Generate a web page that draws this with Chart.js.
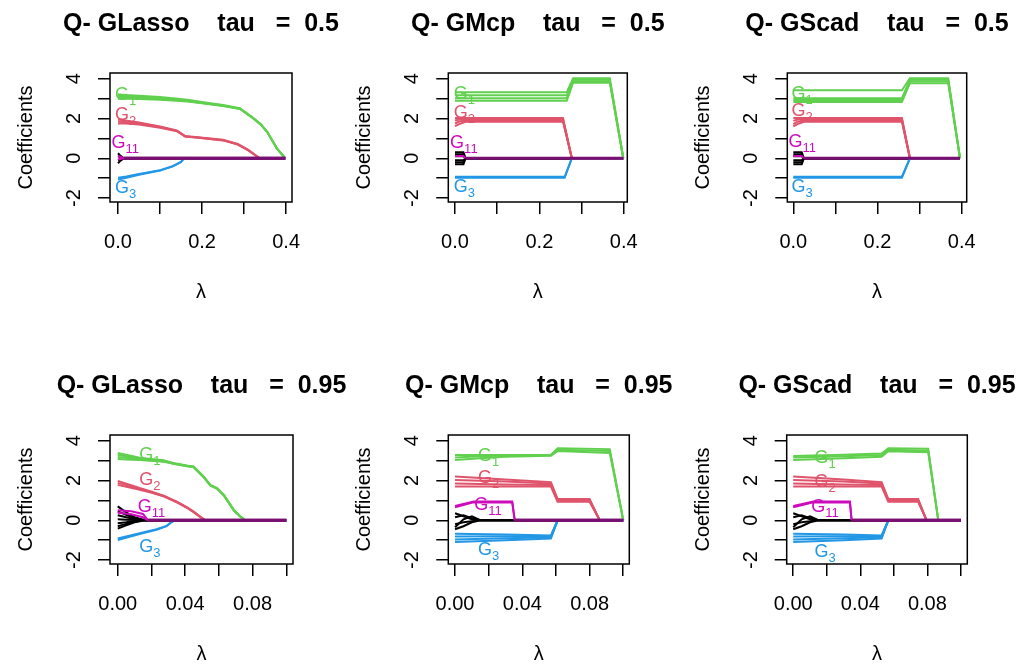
<!DOCTYPE html>
<html><head><meta charset="utf-8">
<script src="https://cdn.jsdelivr.net/npm/chart.js@4"></script>
<style>
html,body{margin:0;padding:0;background:#fff;}
#wrap{position:relative;width:1017px;height:664px;background:#fff;}
#wrap canvas{position:absolute;left:0;top:0;}
</style>
</head><body><div id="wrap"></div>
<script>
// ---------- DATA ----------
const TITLES = [
  "Q- GLasso    tau   =  0.5", "Q- GMcp    tau   =  0.5", "Q- GScad    tau   =  0.5",
  "Q- GLasso    tau   =  0.95", "Q- GMcp    tau   =  0.95", "Q- GScad    tau   =  0.95"
];
const X_TICKS_TOP = [0, 0.1, 0.2, 0.3, 0.4];
const X_LABELS_TOP = ["0.0", "", "0.2", "", "0.4"];
const X_TICKS_BOTTOM = [0, 0.02, 0.04, 0.06, 0.08, 0.1];
const X_LABELS_BOTTOM = ["0.00", "", "0.04", "", "0.08", ""];
const Y_TICKS = [-2, -1, 0, 1, 2, 3, 4];
const Y_LABELS = ["-2", "", "0", "", "2", "", "4"];
const X_TITLE = "λ";
const Y_TITLE = "Coefficients";
const LABEL_GROUPS = ["G1", "G2", "G11", "G3"];
const LABEL_SUBS = ["1", "2", "11", "3"];

// Panel 1: GLasso tau 0.5
const P1_G1_L = [0, 0.01, 0.02, 0.05, 0.1, 0.13, 0.165, 0.2, 0.25, 0.29, 0.32, 0.34, 0.355, 0.378, 0.398];
const P1_G1 = [
  [3.22, 3.2, 3.18, 3.14, 3.08, 3.02, 2.94, 2.83, 2.68, 2.52, 2.06, 1.71, 1.33, 0.5, 0],
  [3.14, 3.13, 3.11, 3.08, 3.02, 2.97, 2.9, 2.8, 2.66, 2.5, 2.05, 1.7, 1.33, 0.5, 0],
  [3.08, 3.07, 3.06, 3.03, 2.98, 2.94, 2.88, 2.78, 2.64, 2.49, 2.04, 1.69, 1.32, 0.5, 0],
  [3.0, 3.0, 2.99, 2.98, 2.94, 2.91, 2.86, 2.77, 2.63, 2.48, 2.03, 1.69, 1.32, 0.49, 0]
];
const P1_G2_L = [0, 0.01, 0.05, 0.1, 0.14, 0.16, 0.19, 0.25, 0.285, 0.31, 0.337, 0.398];
const P1_G2 = [
  [1.95, 1.93, 1.8, 1.6, 1.4, 1.12, 1.06, 0.93, 0.72, 0.42, 0, 0],
  [1.85, 1.84, 1.75, 1.57, 1.38, 1.1, 1.04, 0.91, 0.7, 0.41, 0, 0],
  [1.75, 1.76, 1.7, 1.54, 1.36, 1.09, 1.03, 0.9, 0.69, 0.4, 0, 0]
];
const P1_G3_L = [0, 0.02, 0.05, 0.1, 0.13, 0.15, 0.157, 0.398];
const P1_G3 = [
  [-1.07, -0.98, -0.83, -0.62, -0.41, -0.19, 0, 0],
  [-0.98, -0.92, -0.79, -0.6, -0.4, -0.18, 0, 0]
];
const P1_G11_L = [0, 0.008, 0.014, 0.398];
const P1_G11 = [[0.12, 0.05, 0, 0], [-0.06, -0.02, 0, 0]];
const P1_OTHER_L = [0, 0.006, 0.012, 0.016, 0.398];
const P1_OTHER = [[0.25, 0.12, 0.03, 0, 0], [0.1, 0.05, 0.01, 0, 0], [-0.1, -0.05, -0.01, 0, 0], [-0.25, -0.12, -0.03, 0, 0]];
const P1_LABEL_L = [0.018, 0.018, 0.017, 0.018];
const P1_LABEL_V = [3.27, 2.26, 0.82, -1.45];

// Panel 2: GMcp tau 0.5
const P2_G1_L = [0, 0.265, 0.28, 0.367, 0.399];
const P2_G1 = [[3.32, 3.32, 4.03, 4.03, 0], [3.17, 3.17, 3.95, 3.95, 0], [3.02, 3.02, 3.88, 3.88, 0], [2.9, 2.9, 3.8, 3.8, 0]];
const P2_G2_L = [0, 0.01, 0.025, 0.256, 0.277, 0.399];
const P2_G2 = [[2.02, 2.02, 2.02, 2.02, 0, 0], [1.9, 1.95, 1.97, 1.97, 0, 0], [1.75, 1.85, 1.9, 1.9, 0, 0], [1.62, 1.72, 1.84, 1.85, 0, 0]];
const P2_G3_L = [0, 0.26, 0.277, 0.399];
const P2_G3 = [[-0.93, -0.93, 0, 0], [-0.98, -0.98, 0, 0]];
const P2_G11_L = [0, 0.02, 0.025, 0.399];
const P2_G11 = [[0.12, 0.12, 0, 0]];
const P2_OTHER_L = [0, 0.02, 0.025, 0.399];
const P2_OTHER = [[0.3, 0.3, 0, 0], [0.2, 0.2, 0, 0], [0.1, 0.1, 0, 0], [-0.1, -0.1, 0, 0], [-0.2, -0.2, 0, 0], [-0.3, -0.3, 0, 0]];
const P2_LABEL_L = [0.022, 0.022, 0.021, 0.022];
const P2_LABEL_V = [3.28, 2.34, 0.82, -1.37];

// Panel 3: GScad tau 0.5
const P3_G1_L = [0, 0.258, 0.277, 0.368, 0.396];
const P3_G1 = [[3.42, 3.42, 4.03, 4.03, 0], [3.02, 3.02, 3.95, 3.95, 0], [2.93, 2.93, 3.87, 3.87, 0], [2.83, 2.83, 3.78, 3.78, 0]];
const P3_G2_L = [0, 0.01, 0.025, 0.258, 0.277, 0.396];
const P3_G2 = [[2.02, 2.02, 2.02, 2.02, 0, 0], [1.88, 1.95, 1.97, 1.97, 0, 0], [1.72, 1.84, 1.9, 1.9, 0, 0], [1.6, 1.72, 1.84, 1.85, 0, 0]];
const P3_G3_L = [0, 0.258, 0.277, 0.396];
const P3_G3 = [[-0.93, -0.93, 0, 0], [-0.98, -0.98, 0, 0]];
const P3_G11_L = [0, 0.02, 0.025, 0.396];
const P3_G11 = [[0.12, 0.12, 0, 0]];
const P3_OTHER_L = [0, 0.02, 0.025, 0.396];
const P3_OTHER = [[0.3, 0.3, 0, 0], [0.2, 0.2, 0, 0], [0.1, 0.1, 0, 0], [-0.1, -0.1, 0, 0], [-0.2, -0.2, 0, 0], [-0.3, -0.3, 0, 0]];
const P3_LABEL_L = [0.021, 0.021, 0.021, 0.021];
const P3_LABEL_V = [3.28, 2.43, 0.91, -1.37];

// Panel 4: GLasso tau 0.95
const P4_G1_L = [0, 0.005, 0.013, 0.027, 0.033, 0.041, 0.045, 0.051, 0.055, 0.059, 0.063, 0.069, 0.073, 0.0756, 0.1];
const P4_G1 = [
  [3.38, 3.3, 3.15, 3.02, 2.88, 2.76, 2.71, 2.2, 1.78, 1.62, 1.28, 0.52, 0.18, 0, 0],
  [3.3, 3.22, 3.1, 2.99, 2.86, 2.74, 2.69, 2.18, 1.76, 1.6, 1.26, 0.5, 0.17, 0, 0],
  [3.18, 3.14, 3.06, 2.97, 2.85, 2.73, 2.68, 2.17, 1.75, 1.59, 1.25, 0.49, 0.16, 0, 0],
  [3.08, 3.06, 3.03, 2.95, 2.84, 2.72, 2.67, 2.16, 1.74, 1.58, 1.24, 0.48, 0.16, 0, 0]
];
const P4_G2_L = [0, 0.013, 0.0197, 0.0276, 0.035, 0.041, 0.045, 0.049, 0.052, 0.1];
const P4_G2 = [
  [1.98, 1.62, 1.45, 1.23, 0.94, 0.66, 0.44, 0.18, 0, 0],
  [1.88, 1.58, 1.42, 1.21, 0.92, 0.64, 0.42, 0.17, 0, 0],
  [1.78, 1.54, 1.4, 1.19, 0.9, 0.63, 0.41, 0.16, 0, 0]
];
const P4_G3_L = [0, 0.013, 0.023, 0.029, 0.032, 0.034, 0.1];
const P4_G3 = [[-1.0, -0.69, -0.48, -0.3, -0.09, 0, 0], [-0.92, -0.65, -0.45, -0.28, -0.08, 0, 0]];
const P4_G11_L = [0, 0.008, 0.015, 0.018, 0.1];
const P4_G11 = [[0.5, 0.45, 0.32, 0, 0], [0.38, 0.3, 0.15, 0, 0]];
const P4_OTHER_L = [0, 0.005, 0.01, 0.016, 0.1];
const P4_OTHER = [
  [0.7, 0.4, 0.15, 0, 0], [0.45, 0.28, 0.1, 0, 0], [0.25, 0.15, 0.05, 0, 0], [0.05, 0.03, 0.01, 0, 0],
  [-0.15, -0.1, -0.04, 0, 0], [-0.3, -0.18, -0.07, 0, 0], [-0.42, -0.25, -0.1, 0, 0]
];
const P4_LABEL_L = [0.019, 0.019, 0.02, 0.019];
const P4_LABEL_V = [3.36, 2.1, 0.76, -1.26];

// Panel 5: GMcp tau 0.95
const P5_G1_L = [0, 0.015, 0.03, 0.057, 0.061, 0.092, 0.1];
const P5_G1 = [[3.28, 3.28, 3.28, 3.28, 3.62, 3.58, 0], [3.16, 3.22, 3.26, 3.27, 3.55, 3.48, 0], [3.03, 3.12, 3.2, 3.24, 3.48, 3.38, 0]];
const P5_G2_L = [0, 0.03, 0.057, 0.061, 0.08, 0.086, 0.1];
const P5_G2 = [[2.2, 2.05, 1.92, 1.07, 1.07, 0, 0], [2.02, 1.95, 1.85, 1.02, 1.02, 0, 0], [1.85, 1.8, 1.78, 0.97, 0.97, 0, 0], [1.7, 1.7, 1.7, 0.93, 0.93, 0, 0]];
const P5_G3_L = [0, 0.03, 0.057, 0.061, 0.1];
const P5_G3 = [[-0.68, -0.72, -0.76, 0, 0], [-0.82, -0.8, -0.8, 0, 0], [-0.97, -0.9, -0.85, 0, 0], [-1.09, -1.0, -0.92, 0, 0]];
const P5_G11_L = [0, 0.011, 0.034, 0.0355, 0.1];
const P5_G11 = [[0.72, 0.95, 0.95, 0, 0], [0.65, 0.9, 0.9, 0, 0]];
const P5_OTHER_L = [0, 0.005, 0.01, 0.015, 0.1];
const P5_OTHER = [[0.35, 0.2, 0.05, 0, 0], [0.15, 0.25, 0.1, 0, 0], [-0.2, -0.1, -0.05, 0, 0], [-0.45, -0.3, -0.1, 0, 0], [-0.35, 0.05, 0.2, 0, 0]];
const P5_LABEL_L = [0.02, 0.02, 0.0196, 0.02];
const P5_LABEL_V = [3.28, 2.18, 0.84, -1.43];

// Panel 6: GScad tau 0.95
const P6_G1_L = [0, 0.03, 0.0527, 0.0567, 0.0805, 0.0865, 0.1];
const P6_G1 = [[3.23, 3.3, 3.36, 3.62, 3.6, 0, 0], [3.16, 3.22, 3.28, 3.55, 3.5, 0, 0], [3.03, 3.12, 3.2, 3.47, 3.42, 0, 0]];
const P6_G2_L = [0, 0.03, 0.0527, 0.0567, 0.0745, 0.0795, 0.1];
const P6_G2 = [[2.2, 2.05, 1.92, 1.07, 1.07, 0, 0], [2.02, 1.95, 1.85, 1.02, 1.02, 0, 0], [1.85, 1.8, 1.78, 0.97, 0.97, 0, 0], [1.7, 1.7, 1.7, 0.93, 0.93, 0, 0]];
const P6_G3_L = [0, 0.03, 0.0527, 0.0567, 0.1];
const P6_G3 = [[-0.68, -0.72, -0.76, 0, 0], [-0.82, -0.8, -0.8, 0, 0], [-0.97, -0.9, -0.85, 0, 0], [-1.09, -1.0, -0.92, 0, 0]];
const P6_G11_L = [0, 0.012, 0.0338, 0.0348, 0.1];
const P6_G11 = [[0.72, 0.95, 0.95, 0, 0], [0.65, 0.9, 0.9, 0, 0]];
const P6_OTHER_L = [0, 0.005, 0.01, 0.015, 0.1];
const P6_OTHER = [[0.35, 0.2, 0.05, 0, 0], [0.15, 0.25, 0.1, 0, 0], [-0.2, -0.1, -0.05, 0, 0], [-0.45, -0.3, -0.1, 0, 0], [-0.35, 0.05, 0.2, 0, 0]];
const P6_LABEL_L = [0.019, 0.019, 0.019, 0.019];
const P6_LABEL_V = [3.19, 2.02, 0.76, -1.51];

// ---------- STYLE / LAYOUT ----------
const COLORS = { other: "#000000", G1: "#61D04F", G2: "#DF536B", G3: "#2297E6", G11: "#CD0BBC" };
const ZERO_COLOR = "#7a0f72";
const FONT = '"Liberation Sans", Arial, Helvetica, sans-serif';
const PAGE_W = 1017, PAGE_H = 664;
// plot boxes in page pixels [left, top, right, bottom]
const BOXES = [
  [110, 73, 292, 202], [448.3, 73, 627.3, 202], [787.3, 73, 966.7, 202],
  [110, 435, 293, 564], [448.3, 435, 629.3, 564], [786.7, 435, 967.3, 564]
];
const XLIM = [[-0.019, 0.414], [-0.0159, 0.4085], [-0.0143, 0.4119], [-0.0046, 0.104], [-0.004, 0.1036], [-0.0039, 0.1038]];
const YLIM = [-2.2, 4.29];

const PANEL_GROUPS = [
  { other: [P1_OTHER_L, P1_OTHER], G1: [P1_G1_L, P1_G1], G2: [P1_G2_L, P1_G2], G3: [P1_G3_L, P1_G3], G11: [P1_G11_L, P1_G11] },
  { other: [P2_OTHER_L, P2_OTHER], G1: [P2_G1_L, P2_G1], G2: [P2_G2_L, P2_G2], G3: [P2_G3_L, P2_G3], G11: [P2_G11_L, P2_G11] },
  { other: [P3_OTHER_L, P3_OTHER], G1: [P3_G1_L, P3_G1], G2: [P3_G2_L, P3_G2], G3: [P3_G3_L, P3_G3], G11: [P3_G11_L, P3_G11] },
  { other: [P4_OTHER_L, P4_OTHER], G1: [P4_G1_L, P4_G1], G2: [P4_G2_L, P4_G2], G3: [P4_G3_L, P4_G3], G11: [P4_G11_L, P4_G11] },
  { other: [P5_OTHER_L, P5_OTHER], G1: [P5_G1_L, P5_G1], G2: [P5_G2_L, P5_G2], G3: [P5_G3_L, P5_G3], G11: [P5_G11_L, P5_G11] },
  { other: [P6_OTHER_L, P6_OTHER], G1: [P6_G1_L, P6_G1], G2: [P6_G2_L, P6_G2], G3: [P6_G3_L, P6_G3], G11: [P6_G11_L, P6_G11] }
];
const PANEL_LABELS = [
  [P1_LABEL_L, P1_LABEL_V], [P2_LABEL_L, P2_LABEL_V], [P3_LABEL_L, P3_LABEL_V],
  [P4_LABEL_L, P4_LABEL_V], [P5_LABEL_L, P5_LABEL_V], [P6_LABEL_L, P6_LABEL_V]
];
const DRAW_ORDER = ["other", "G1", "G2", "G3", "G11"];

const rPlugin = {
  id: "rstyle",
  afterDraw(chart, args, opts) {
    const i = opts.index;
    const { ctx, chartArea: a } = chart;
    const xs = chart.scales.x, ys = chart.scales.y;
    const top = i < 3;
    const xt = top ? X_TICKS_TOP : X_TICKS_BOTTOM;
    const xl = top ? X_LABELS_TOP : X_LABELS_BOTTOM;
    const cx = (a.left + a.right) / 2, cy = (a.top + a.bottom) / 2;
    ctx.save();
    ctx.strokeStyle = "#000"; ctx.lineWidth = 1.5;
    ctx.strokeRect(a.left, a.top, a.right - a.left, a.bottom - a.top);
    ctx.fillStyle = "#000";
    ctx.textBaseline = "alphabetic";
    ctx.textAlign = "center";
    ctx.font = "bold 25px " + FONT;
    ctx.fillText(TITLES[i], cx, a.top - 42);
    ctx.font = "20px " + FONT;
    xt.forEach((v, k) => { if (xl[k]) ctx.fillText(xl[k], xs.getPixelForValue(v), a.bottom + 46); });
    ctx.fillText(X_TITLE, cx, a.bottom + 96);
    Y_TICKS.forEach((v, k) => {
      if (!Y_LABELS[k]) return;
      ctx.save(); ctx.translate(a.left - 30, ys.getPixelForValue(v)); ctx.rotate(-Math.PI / 2);
      ctx.fillText(Y_LABELS[k], 0, 0); ctx.restore();
    });
    ctx.save(); ctx.translate(a.left - 78, cy); ctx.rotate(-Math.PI / 2);
    ctx.fillText(Y_TITLE, 0, 0); ctx.restore();
    // group labels G_k
    const [ll, lv] = PANEL_LABELS[i];
    LABEL_GROUPS.forEach((g, k) => {
      const px = xs.getPixelForValue(ll[k]), py = ys.getPixelForValue(lv[k]);
      ctx.fillStyle = COLORS[g];
      ctx.textAlign = "left";
      ctx.font = "18px " + FONT; const wG = ctx.measureText("G").width;
      ctx.font = "13px " + FONT; const wS = ctx.measureText(LABEL_SUBS[k]).width;
      const x0 = px - (wG + wS) / 2, base = py + 6.4;
      ctx.font = "18px " + FONT; ctx.fillText("G", x0, base);
      ctx.font = "13px " + FONT; ctx.fillText(LABEL_SUBS[k], x0 + wG, base + 5);
    });
    ctx.restore();
  }
};

const wrap = document.getElementById("wrap");
for (let i = 0; i < 6; i++) {
  const cv = document.createElement("canvas");
  cv.width = PAGE_W; cv.height = PAGE_H;
  cv.style.width = PAGE_W + "px"; cv.style.height = PAGE_H + "px";
  wrap.appendChild(cv);
  const [L, T, R, B] = BOXES[i];
  const YW = 40, XH = 60;
  const datasets = [];
  DRAW_ORDER.forEach((g, gi) => {
    const [lam, vals] = PANEL_GROUPS[i][g];
    vals.forEach(arr => {
      const ds = {
        data: lam.map((l, k) => ({ x: l, y: arr[k] })),
        borderColor: COLORS[g], borderWidth: 2, pointRadius: 0, tension: 0,
        fill: false, order: DRAW_ORDER.length - gi
      };
      if (g === "G11") {
        ds.segment = {
          borderColor: c => (c.p0.parsed.y === 0 && c.p1.parsed.y === 0) ? ZERO_COLOR : undefined,
          borderWidth: c => (c.p0.parsed.y === 0 && c.p1.parsed.y === 0) ? 3 : undefined
        };
      }
      datasets.push(ds);
    });
  });
  const top = i < 3;
  const xt = top ? X_TICKS_TOP : X_TICKS_BOTTOM;
  new Chart(cv, {
    type: "line",
    data: { datasets },
    plugins: [rPlugin],
    options: {
      responsive: false, animation: false, devicePixelRatio: 1, events: [],
      layout: { padding: { left: L - YW, top: T, right: PAGE_W - R, bottom: PAGE_H - B - XH } },
      plugins: { legend: { display: false }, tooltip: { enabled: false }, title: { display: false }, rstyle: { index: i } },
      scales: {
        x: {
          type: "linear", min: XLIM[i][0], max: XLIM[i][1],
          afterFit: s => { s.height = XH; },
          afterBuildTicks: s => { s.ticks = xt.map(v => ({ value: v })); },
          ticks: { display: false },
          grid: { display: true, drawOnChartArea: false, drawTicks: true, tickLength: 12, color: "#000", lineWidth: 1.5 },
          border: { display: false }
        },
        y: {
          type: "linear", min: YLIM[0], max: YLIM[1],
          afterFit: s => { s.width = YW; },
          afterBuildTicks: s => { s.ticks = Y_TICKS.map(v => ({ value: v })); },
          ticks: { display: false },
          grid: { display: true, drawOnChartArea: false, drawTicks: true, tickLength: 12, color: "#000", lineWidth: 1.5 },
          border: { display: false }
        }
      }
    }
  });
}
</script>
</body></html>
